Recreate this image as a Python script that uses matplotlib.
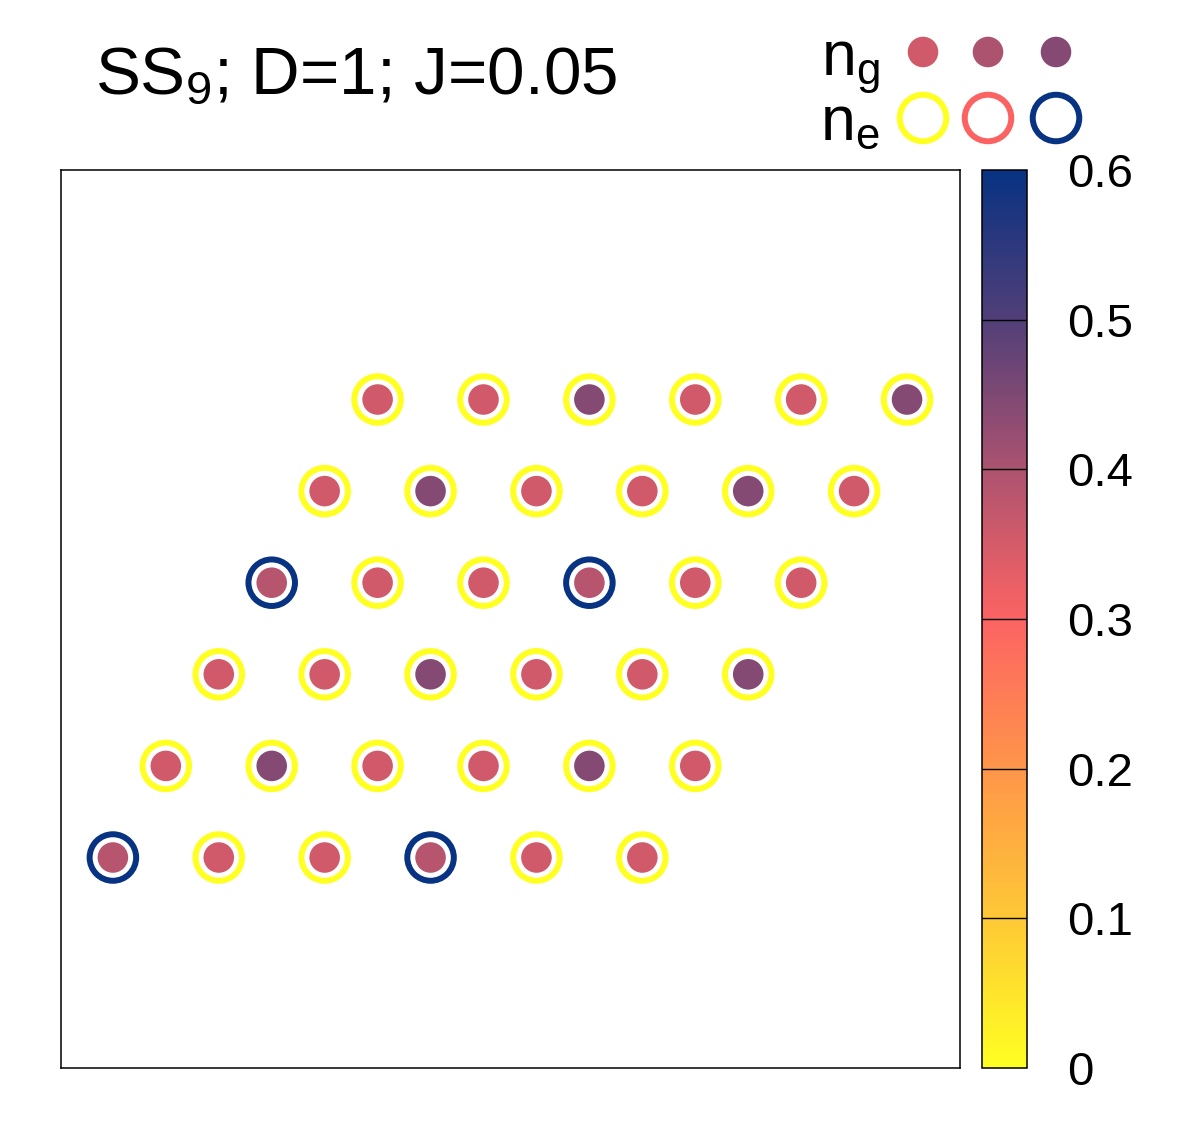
import numpy as np
import matplotlib
matplotlib.use("Agg")
import matplotlib.pyplot as plt
from matplotlib.colors import LinearSegmentedColormap, Normalize
from matplotlib.cm import ScalarMappable

plt.rcParams['font.family'] = ['Liberation Sans', 'DejaVu Sans']
plt.rcParams['mathtext.fontset'] = 'custom'
plt.rcParams['mathtext.rm'] = 'Liberation Sans'
plt.rcParams['mathtext.it'] = 'Liberation Sans:italic'

# lattice sites: row (bottom -> top), column inside the row
rows = np.repeat(np.arange(6), 6)
cols = np.tile(np.arange(6), 6)

# n_g per site, row by row from the bottom
ng = [0.385, 0.355, 0.355, 0.385, 0.355, 0.355,
      0.355, 0.445, 0.355, 0.355, 0.445, 0.355,
      0.355, 0.355, 0.445, 0.355, 0.355, 0.445,
      0.385, 0.355, 0.355, 0.385, 0.355, 0.355,
      0.355, 0.445, 0.355, 0.355, 0.445, 0.355,
      0.355, 0.355, 0.445, 0.355, 0.355, 0.445]
# n_e per site
ne = [0.6, 0.0, 0.0, 0.6, 0.0, 0.0,
      0.0, 0.0, 0.0, 0.0, 0.0, 0.0,
      0.0, 0.0, 0.0, 0.0, 0.0, 0.0,
      0.6, 0.0, 0.0, 0.6, 0.0, 0.0,
      0.0, 0.0, 0.0, 0.0, 0.0, 0.0,
      0.0, 0.0, 0.0, 0.0, 0.0, 0.0]

ng_legend = [0.355, 0.40, 0.445]
ne_legend = [0.0, 0.3, 0.6]
cb_ticks = [0, 0.1, 0.2, 0.3, 0.4, 0.5, 0.6]
cb_labels = ["0", "0.1", "0.2", "0.3", "0.4", "0.5", "0.6"]

pal = LinearSegmentedColormap.from_list("pal", [
    (0.0, "#ffff22"), (1/6, "#fec836"), (2/6, "#ff954a"), (3/6, "#fc6363"),
    (4/6, "#ac5370"), (5/6, "#523f78"), (1.0, "#083282")])
norm = Normalize(0, 0.6)

x = cols + rows / 2.0
y = rows * np.sqrt(3) / 2.0

ring_s = 33.5**2
ring_lw = 4.3
dot_s = 22**2

W, H = 1200, 1125
fig = plt.figure(figsize=(12, 11.25), dpi=100)
ax = fig.add_axes([61/W, 1 - 1068/H, 899/W, 898/H])
ax.set_xlim(-0.49, 8.0)
ax.set_ylim(-1.99, 6.5)
ax.set_xticks([])
ax.set_yticks([])
for s in ax.spines.values():
    s.set_linewidth(1.1)

ax.scatter(x, y, s=ring_s, facecolors='none', edgecolors=pal(norm(np.array(ne))),
           linewidths=ring_lw, zorder=2)
ax.scatter(x, y, s=dot_s, c=ng, cmap=pal, norm=norm, edgecolors='none', zorder=3)

# colorbar
cax = fig.add_axes([982/W, 1 - 1068/H, 45/W, 898/H])
cb = fig.colorbar(ScalarMappable(norm=norm, cmap=pal), cax=cax)
cb.outline.set_linewidth(1.1)
cb.set_ticks(cb_ticks)
cb.set_ticklabels(cb_labels)
cax.tick_params(length=0, pad=29, labelsize=34)
for t in cb_ticks[1:-1]:
    cax.axhline(t, color='black', lw=1.0)

# title
fig.text(95/W, 1 - 93/H, "SS$_\\mathrm{9}$; D=1; J=0.05", fontsize=48.5, va='baseline', ha='left')

# key
fig.text(880/W, 1 - 75/H, "n$_\\mathrm{g}$", fontsize=45, va='baseline', ha='right')
fig.text(880/W, 1 - 140/H, "n$_\\mathrm{e}$", fontsize=45, va='baseline', ha='right')
key_x = np.array([923, 988, 1056]) / W
ax.scatter(key_x, [1 - 52/H] * 3, s=dot_s, c=ng_legend, cmap=pal, norm=norm,
           edgecolors='none', transform=fig.transFigure, clip_on=False)
ax.scatter(key_x, [1 - 118/H] * 3, s=ring_s, facecolors='none',
           edgecolors=pal(norm(np.array(ne_legend))), linewidths=ring_lw,
           transform=fig.transFigure, clip_on=False)

fig.savefig("out.png", dpi=100)
